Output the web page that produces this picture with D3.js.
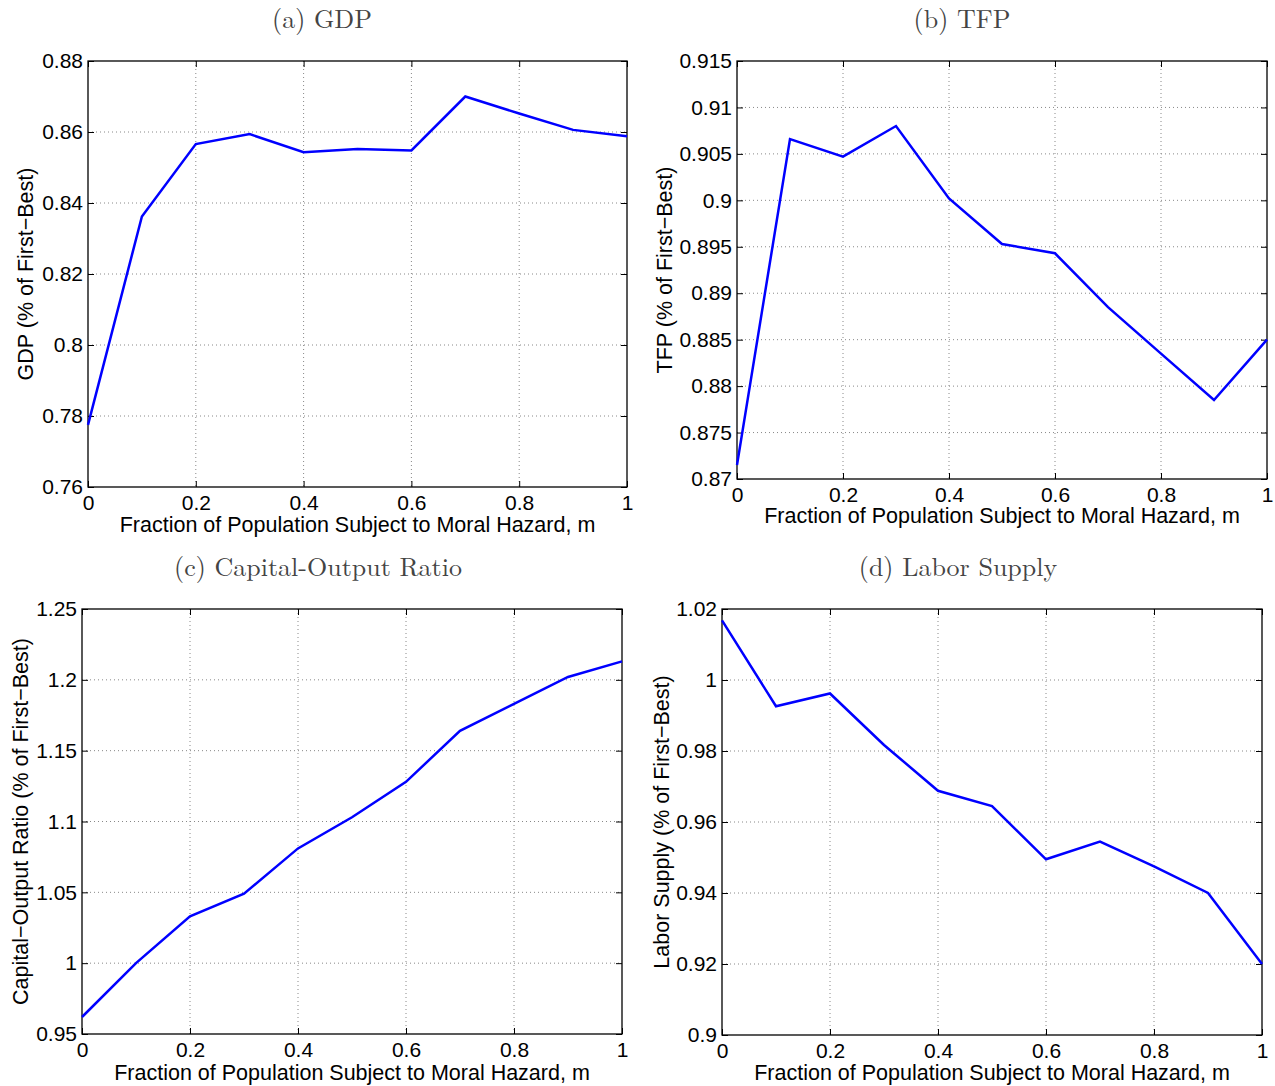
<!DOCTYPE html>
<html>
<head>
<meta charset="utf-8">
<script src="https://cdn.jsdelivr.net/npm/d3@7"></script>
<style>
  body { margin: 0; background: #fff; }
  svg { display: block; }
</style>
</head>
<body>
<svg id="chart"></svg>
<script>
const mValues = [0, 0.1, 0.2, 0.3, 0.4, 0.5, 0.6, 0.7, 0.8, 0.9, 1.0];

const gdp = [0.7775, 0.8362, 0.8566, 0.8594, 0.8543, 0.8552, 0.8548, 0.8700, 0.8652, 0.8606, 0.8588];
const tfp = [0.8715, 0.9066, 0.9047, 0.9080, 0.9002, 0.8953, 0.8943, 0.8885, 0.8835, 0.8785, 0.8850];
const capOutput = [0.962, 1.000, 1.033, 1.049, 1.081, 1.103, 1.128, 1.164, 1.183, 1.202, 1.213];
const labor = [1.0168, 0.9926, 0.9962, 0.9817, 0.9688, 0.9645, 0.9495, 0.9545, 0.9475, 0.9400, 0.9200];

const xTicks = [0, 0.2, 0.4, 0.6, 0.8, 1];
const gdpTicks = [0.76, 0.78, 0.8, 0.82, 0.84, 0.86, 0.88];
const tfpTicks = [0.87, 0.875, 0.88, 0.885, 0.89, 0.895, 0.9, 0.905, 0.91, 0.915];
const capTicks = [0.95, 1, 1.05, 1.1, 1.15, 1.2, 1.25];
const laborTicks = [0.9, 0.92, 0.94, 0.96, 0.98, 1, 1.02];

const xLabel = "Fraction of Population Subject to Moral Hazard, m";

const panels = [
  { title: "(a)  GDP", ylabel: "GDP (% of First\u2212Best)", values: gdp, yTicks: gdpTicks,
    box: { x0: 88, x1: 627, y0: 61, y1: 487 }, titleX: 322, titleY: 28, ylabX: 33, xlabY: 532 },
  { title: "(b)  TFP", ylabel: "TFP (% of First\u2212Best)", values: tfp, yTicks: tfpTicks,
    box: { x0: 737, x1: 1267, y0: 61, y1: 479 }, titleX: 962, titleY: 28, ylabX: 672, xlabY: 523 },
  { title: "(c)  Capital-Output Ratio", ylabel: "Capital\u2212Output Ratio  (% of First\u2212Best)", values: capOutput, yTicks: capTicks,
    box: { x0: 82, x1: 622, y0: 609, y1: 1034 }, titleX: 318, titleY: 576, ylabX: 28, xlabY: 1080 },
  { title: "(d)  Labor Supply", ylabel: "Labor Supply (% of First\u2212Best)", values: labor, yTicks: laborTicks,
    box: { x0: 722, x1: 1262, y0: 609, y1: 1035 }, titleX: 958, titleY: 576, ylabX: 669, xlabY: 1080 }
];

const svg = d3.select("#chart").attr("width", 1275).attr("height", 1086);
const fmt = d => String(+d.toFixed(3));
const sans = "Liberation Sans, Arial, Helvetica, sans-serif";
const fs = 21;
const tickLen = 6;

panels.forEach(p => {
  const b = p.box;
  const x = d3.scaleLinear().domain([0, 1]).range([b.x0, b.x1]);
  const y = d3.scaleLinear().domain([p.yTicks[0], p.yTicks[p.yTicks.length - 1]]).range([b.y1, b.y0]);
  const g = svg.append("g");

  // dotted grid
  g.append("g").selectAll("line").data(xTicks.slice(1, -1)).enter().append("line")
    .attr("x1", d => x(d)).attr("x2", d => x(d)).attr("y1", b.y0).attr("y2", b.y1)
    .attr("stroke", "#888").attr("stroke-width", 1).attr("stroke-dasharray", "1,3");
  g.append("g").selectAll("line").data(p.yTicks.slice(1, -1)).enter().append("line")
    .attr("x1", b.x0).attr("x2", b.x1).attr("y1", d => y(d)).attr("y2", d => y(d))
    .attr("stroke", "#888").attr("stroke-width", 1).attr("stroke-dasharray", "1,3");

  // axes with inward ticks (bottom/left labeled, top/right mirrored)
  const ax = (gen, tr) => g.append("g").attr("transform", tr).call(gen)
    .call(s => s.select(".domain").remove())
    .call(s => s.selectAll("line").attr("stroke", "#000"))
    .call(s => s.selectAll("text").attr("font-family", sans).attr("font-size", fs).attr("fill", "#000"));

  ax(d3.axisBottom(x).tickValues(xTicks).tickFormat(fmt).tickSizeInner(-tickLen).tickPadding(8), `translate(0,${b.y1})`);
  ax(d3.axisTop(x).tickValues(xTicks).tickFormat("").tickSizeInner(-tickLen), `translate(0,${b.y0})`);
  ax(d3.axisLeft(y).tickValues(p.yTicks).tickFormat(fmt).tickSizeInner(-tickLen).tickPadding(5), `translate(${b.x0},0)`);
  ax(d3.axisRight(y).tickValues(p.yTicks).tickFormat("").tickSizeInner(-tickLen), `translate(${b.x1},0)`);

  // box
  g.append("rect").attr("x", b.x0).attr("y", b.y0).attr("width", b.x1 - b.x0).attr("height", b.y1 - b.y0)
    .attr("fill", "none").attr("stroke", "#000").attr("stroke-width", 1.3);

  // series line
  const line = d3.line().x((d, i) => x(mValues[i])).y(d => y(d));
  g.append("path").datum(p.values).attr("d", line)
    .attr("fill", "none").attr("stroke", "#0000ff").attr("stroke-width", 2.5).attr("stroke-linejoin", "miter");

  // title
  g.append("text").attr("x", p.titleX).attr("y", p.titleY).attr("text-anchor", "middle")
    .attr("font-family", "Latin Modern Roman, DejaVu Serif, serif").attr("font-size", 26).attr("fill", "#444")
    .text(p.title);

  // x label
  g.append("text").attr("x", (b.x0 + b.x1) / 2).attr("y", p.xlabY).attr("text-anchor", "middle")
    .attr("font-family", sans).attr("font-size", 21.5).attr("fill", "#000").text(xLabel);

  // y label
  g.append("text").attr("transform", `translate(${p.ylabX},${(b.y0 + b.y1) / 2}) rotate(-90)`)
    .attr("text-anchor", "middle").attr("font-family", sans).attr("font-size", 21.5).attr("fill", "#000")
    .text(p.ylabel);
});
</script>
</body>
</html>
